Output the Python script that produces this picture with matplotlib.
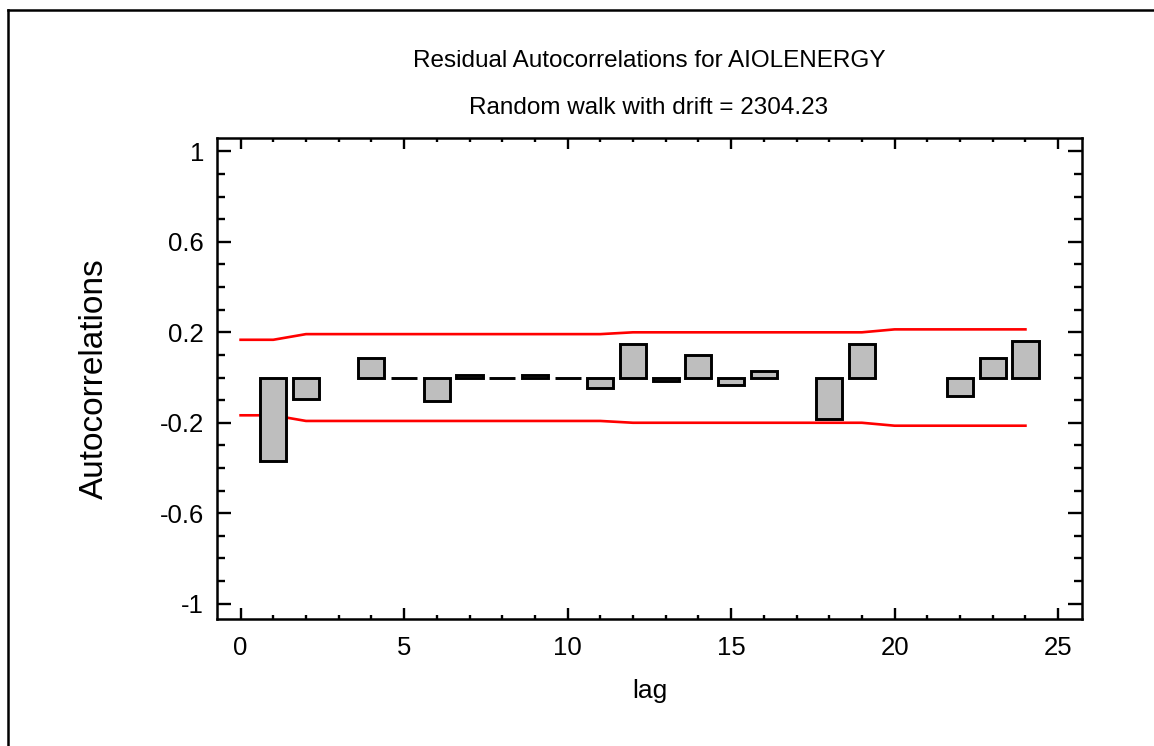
import numpy as np
import matplotlib.pyplot as plt
from matplotlib.lines import Line2D
from matplotlib.ticker import MultipleLocator

# residual autocorrelations by lag (nan = not drawn)
lags = np.arange(1, 25)
acf = [-0.37, -0.095, np.nan, 0.087, -0.003, -0.105, 0.01, -0.003, 0.01, -0.003,
       -0.045, 0.148, -0.016, 0.1, -0.032, 0.027, np.nan, -0.183, 0.148, np.nan,
       np.nan, -0.082, 0.087, 0.161]
limit_lags = np.arange(0, 25)
limits = [0.167, 0.167] + [0.192] * 10 + [0.2] * 8 + [0.213] * 5

plt.rcParams['font.family'] = ['Liberation Sans', 'DejaVu Sans']

fig = plt.figure(figsize=(11.54, 7.46), dpi=100)
ax = fig.add_axes([0.1878, 0.1702, 0.7501, 0.6444])

vals = np.array(acf, dtype=float)
ok = ~np.isnan(vals)
ax.bar(lags[ok], vals[ok], width=0.8, color='#bebebe', edgecolor='black',
       linewidth=2.1, zorder=3)
ax.plot(limit_lags, limits, color='red', lw=1.9, zorder=2)
ax.plot(limit_lags, -np.array(limits), color='red', lw=1.9, zorder=2)

ax.set_xlim(-0.73, 25.74)
ax.set_ylim(-1.068, 1.058)
ax.xaxis.set_major_locator(MultipleLocator(5))
ax.xaxis.set_minor_locator(MultipleLocator(1))
ax.set_yticks([-1, -0.6, -0.2, 0.2, 0.6, 1])
ax.set_yticklabels(['-1', '-0.6', '-0.2', '0.2', '0.6', '1'])
ax.yaxis.set_minor_locator(MultipleLocator(0.1))
ax.tick_params(which='both', direction='in', top=True, right=True, width=1.7,
               labelsize=18.5)
ax.tick_params(which='major', length=8)
ax.tick_params(which='minor', length=3)
ax.tick_params(axis='y', which='major', length=10)
ax.tick_params(axis='y', which='minor', length=6)
ax.tick_params(axis='x', pad=12)
ax.tick_params(axis='y', pad=9)
for s in ax.spines.values():
    s.set_linewidth(1.8)

ax.set_xlabel('lag', fontsize=19, labelpad=14)
ax.set_ylabel('Autocorrelations', fontsize=24, labelpad=36)

fig.text(0.5624, 0.9186, 'Residual Autocorrelations for AIOLENERGY',
         ha='center', va='center', fontsize=17.5)
fig.text(0.5624, 0.8556, 'Random walk with drift = 2304.23',
         ha='center', va='center', fontsize=17.5)

# outer frame
fig.add_artist(Line2D([8 / 1154, 8 / 1154], [0, 1 - 10 / 746],
                      transform=fig.transFigure, color='black', lw=1.8))
fig.add_artist(Line2D([8 / 1154, 1], [1 - 10 / 746, 1 - 10 / 746],
                      transform=fig.transFigure, color='black', lw=1.8))

fig.savefig('out.png', dpi=100)
